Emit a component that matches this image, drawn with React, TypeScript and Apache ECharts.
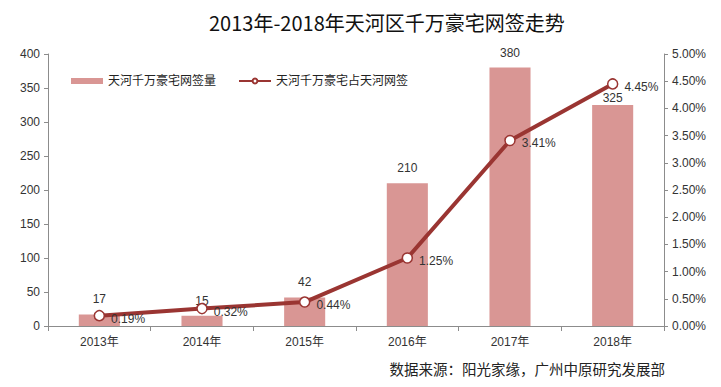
import React, { useEffect, useRef } from "react";
import * as echarts from "echarts";

const categories = ["2013年", "2014年", "2015年", "2016年", "2017年", "2018年"];
const volumes = [17, 15, 42, 210, 380, 325];
const shares = [0.19, 0.32, 0.44, 1.25, 3.41, 4.45];
const leftTicks = { min: 0, max: 400, interval: 50 };
const rightTicks = { min: 0, max: 5, interval: 0.5 };
const barName = "天河千万豪宅网签量";
const lineName = "天河千万豪宅占天河网签";
const titleText = "2013年-2018年天河区千万豪宅网签走势";
const sourceText = "数据来源：阳光家缘，广州中原研究发展部";

export default function App() {
  const ref = useRef<HTMLDivElement>(null);
  useEffect(() => {
    if (!ref.current) return;
    const chart = echarts.init(ref.current, null, { renderer: "svg" });
    const font = "'Liberation Sans', 'Noto Sans CJK SC', sans-serif";
    const axisLine = { show: true, lineStyle: { color: "#8c8c8c", width: 1 } };
    const barData = volumes.map((v, i) =>
      i === volumes.length - 1 ? { value: v, label: { distance: 1 } } : v
    );
    chart.setOption({
      animation: false,
      backgroundColor: "#ffffff",
      title: {
        text: titleText,
        left: 204,
        top: 7,
        textStyle: { fontSize: 20, fontWeight: "normal", color: "#111", fontFamily: "'Noto Sans CJK SC', sans-serif" },
      },
      legend: {
        left: 66,
        top: 70,
        itemGap: 22,
        itemWidth: 32,
        itemHeight: 6,
        textStyle: { fontSize: 12, color: "#222", fontFamily: font },
        data: [
          { name: barName, icon: "rect" },
          { name: lineName },
        ],
      },
      grid: { left: 48, right: 57, top: 54, bottom: 61 },
      xAxis: {
        type: "category",
        data: categories,
        axisLine,
        axisTick: { show: true, alignWithLabel: false, length: 5, lineStyle: { color: "#8c8c8c" } },
        axisLabel: { fontSize: 12, color: "#333", margin: 10, fontFamily: font },
      },
      yAxis: [
        {
          type: "value",
          min: leftTicks.min,
          max: leftTicks.max,
          interval: leftTicks.interval,
          axisLine,
          axisTick: { show: true, length: 4, lineStyle: { color: "#8c8c8c" } },
          splitLine: { show: false },
          axisLabel: { fontSize: 12, color: "#333", margin: 8, fontFamily: font },
        },
        {
          type: "value",
          min: rightTicks.min,
          max: rightTicks.max,
          interval: rightTicks.interval,
          axisLine,
          axisTick: { show: true, length: 4, lineStyle: { color: "#8c8c8c" } },
          splitLine: { show: false },
          axisLabel: {
            fontSize: 12,
            color: "#333",
            margin: 8,
            fontFamily: font,
            formatter: (v: number) => v.toFixed(2) + "%",
          },
        },
      ],
      series: [
        {
          name: barName,
          type: "bar",
          data: barData,
          barWidth: "40%",
          itemStyle: { color: "#d99694" },
          label: { show: true, position: "top", distance: 9, fontSize: 12, color: "#333", fontFamily: font },
        },
        {
          name: lineName,
          type: "line",
          yAxisIndex: 1,
          data: shares,
          symbol: "circle",
          symbolSize: 10,
          lineStyle: { color: "#9a3532", width: 4 },
          itemStyle: { color: "#ffffff", borderColor: "#9a3532", borderWidth: 1.5 },
          label: {
            show: true,
            position: "right",
            distance: 6,
            offset: [0, 3],
            fontSize: 12,
            color: "#333",
            fontFamily: font,
            formatter: (p: any) => p.value.toFixed(2) + "%",
          },
          z: 5,
        },
      ],
      graphic: [
        {
          type: "text",
          right: 56,
          top: 361,
          style: { text: sourceText, fontSize: 14.5, fill: "#222", fontFamily: "'Noto Sans CJK SC', sans-serif" },
        },
      ],
    });
    return () => chart.dispose();
  }, []);
  return <div ref={ref} style={{ width: 721, height: 387, position: "fixed", left: 0, top: 0 }} />;
}
